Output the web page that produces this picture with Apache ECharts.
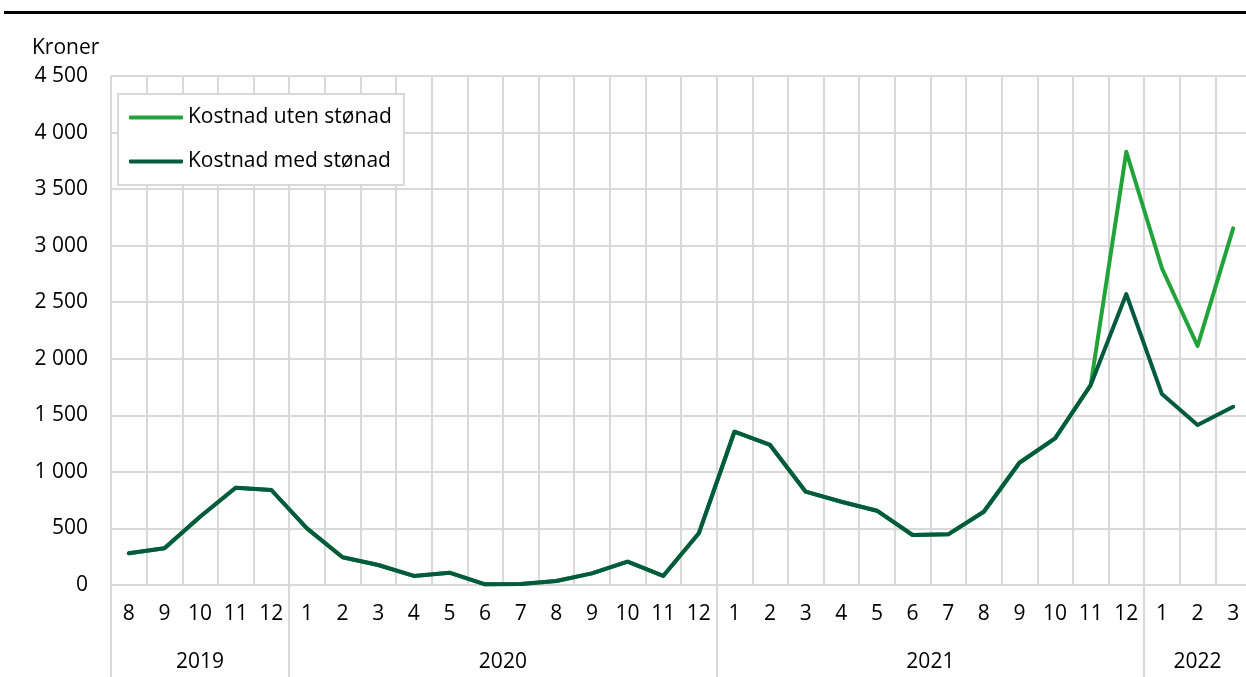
<!DOCTYPE html>
<html>
<head>
<meta charset="utf-8">
<script src="https://cdn.jsdelivr.net/npm/echarts@6/dist/echarts.min.js"></script>
<style>
html,body{margin:0;padding:0;background:#fff;}
#c{width:1246px;height:677px;}
</style>
</head>
<body>
<div id="c"></div>
<script>
const months = ['8','9','10','11','12','1','2','3','4','5','6','7','8','9','10','11','12','1','2','3','4','5','6','7','8','9','10','11','12','1','2','3'];
const years = ['2019','2020','2021','2022'];
const yearMonthCounts = [5, 12, 12, 3];
const utenStonad = [280,324,604,860,840,501,245,177,80,109,6,8,35,103,206,80,457,1355,1238,825,736,657,442,448,648,1081,1297,1768,3830,2800,2113,3153];
const medStonad  = [280,324,604,860,840,501,245,177,80,109,6,8,35,103,206,80,457,1355,1238,825,736,657,442,448,648,1081,1297,1768,2572,1688,1414,1576];
const yTicks = {min: 0, max: 4500, step: 500};

const FONT = 'Open Sans';
const FS = 21;
const GRID = '#d9d9d9';

// year boundaries / centers derived from month counts
const yearStarts = [];
const yearCenters = {};
let acc = 0;
yearMonthCounts.forEach((n, i) => {
  yearStarts.push(acc);
  yearCenters[(acc + n / 2).toFixed(1)] = years[i];
  acc += n;
});

const chart = echarts.init(document.getElementById('c'), null, {renderer: 'canvas'});
chart.setOption({
  animation: false,
  textStyle: {fontFamily: FONT},
  title: {
    text: 'Kroner', left: 27, top: 33,
    textStyle: {fontFamily: FONT, fontSize: FS, fontWeight: 'normal', color: '#000'}
  },
  graphic: [{
    type: 'line', shape: {x1: 4, y1: 12.5, x2: 1246, y2: 12.5},
    style: {stroke: '#000', lineWidth: 3}
  }],
  legend: {
    orient: 'vertical', left: 118, top: 94,
    padding: [13, 12, 13, 11],
    itemGap: 23,
    itemWidth: 54, itemHeight: 4,
    icon: 'roundRect',
    borderColor: GRID, borderWidth: 2, backgroundColor: '#fff',
    textStyle: {fontFamily: FONT, fontSize: FS, color: '#000', lineHeight: 21, padding: [0, 0, 0, 0]},
    itemStyle: {borderWidth: 0},
    data: ['Kostnad uten stønad', 'Kostnad med stønad']
  },
  grid: {left: 111, right: -5, top: 76, bottom: 92, containLabel: false, outerBoundsMode: 'none'},
  xAxis: [
    {
      type: 'category', data: months, boundaryGap: true,
      axisLine: {show: true, lineStyle: {color: GRID, width: 2}},
      axisTick: {show: false},
      splitLine: {show: true, interval: 0, lineStyle: {color: GRID, width: 2}},
      axisLabel: {interval: 0, margin: 19, fontFamily: FONT, fontSize: FS, color: '#000'}
    },
    {
      type: 'category', data: months, boundaryGap: true, position: 'bottom',
      axisLine: {show: false},
      axisLabel: {show: false},
      splitLine: {show: false},
      axisTick: {
        show: true, length: 100,
        interval: (i) => yearStarts.indexOf(i) >= 0,
        lineStyle: {color: GRID, width: 2}
      }
    },
    {
      type: 'value', min: 0, max: acc, interval: 0.5, position: 'bottom',
      axisLine: {show: false}, axisTick: {show: false}, splitLine: {show: false},
      axisLabel: {
        margin: 67, fontFamily: FONT, fontSize: FS, color: '#000',
        showMinLabel: true, showMaxLabel: true,
        formatter: (v) => yearCenters[Number(v).toFixed(1)] || ''
      }
    }
  ],
  yAxis: {
    type: 'value', min: yTicks.min, max: yTicks.max, interval: yTicks.step,
    axisLine: {show: false}, axisTick: {show: false},
    splitLine: {show: true, lineStyle: {color: GRID, width: 2}},
    axisLabel: {
      margin: 23, fontFamily: FONT, fontSize: FS, color: '#000',
      formatter: (v) => String(v).replace(/\B(?=(\d{3})+(?!\d))/g, ' ')
    }
  },
  series: [
    {
      name: 'Kostnad uten stønad', type: 'line', data: utenStonad,
      symbol: 'none', lineStyle: {width: 4, color: '#22a33a', cap: 'round', join: 'round'},
      itemStyle: {color: '#22a33a'}
    },
    {
      name: 'Kostnad med stønad', type: 'line', data: medStonad,
      symbol: 'none', lineStyle: {width: 4, color: '#005a3e', cap: 'round', join: 'round'},
      itemStyle: {color: '#005a3e'}
    }
  ]
});
</script>
</body>
</html>
